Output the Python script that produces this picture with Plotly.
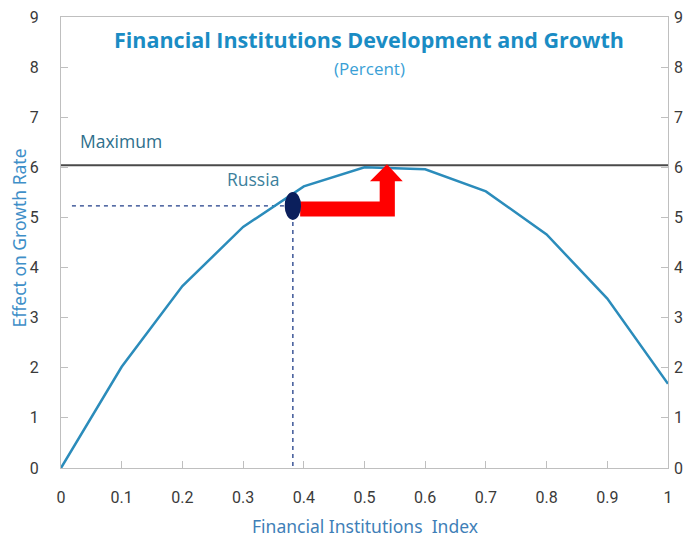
import plotly.graph_objects as go

# Data
fi_index = [0, 0.1, 0.2, 0.3, 0.4, 0.5, 0.6, 0.7, 0.8, 0.9, 1.0]
growth_effect = [0.0, 2.02, 3.63, 4.81, 5.62, 6.0, 5.96, 5.52, 4.66, 3.38, 1.68]
maximum_level = 6.04
russia_x = 0.382
russia_y = 5.23
target_x = 0.537
y_ticks = [0, 1, 2, 3, 4, 5, 6, 7, 8, 9]
x_ticks = [0, 0.1, 0.2, 0.3, 0.4, 0.5, 0.6, 0.7, 0.8, 0.9, 1.0]
x_tick_labels = ["0", "0.1", "0.2", "0.3", "0.4", "0.5", "0.6", "0.7", "0.8", "0.9", "1"]

TICKFONT = dict(family="Roboto", size=16, color="#3a3a3a")
LINE_BLUE = "#2b8cbb"

fig = go.Figure()

# Maximum line
fig.add_trace(go.Scatter(x=[0, 1], y=[maximum_level, maximum_level], mode="lines",
                         line=dict(color="#4a4a4a", width=2), hoverinfo="skip"))
# Dashed guides for Russia
fig.add_trace(go.Scatter(x=[0.018, russia_x], y=[russia_y, russia_y], mode="lines",
                         line=dict(color="#1f3c88", width=1.3, dash="4px,4px"), hoverinfo="skip"))
fig.add_trace(go.Scatter(x=[russia_x, russia_x], y=[russia_y, -0.14], mode="lines",
                         line=dict(color="#1f3c88", width=1.3, dash="4px,4px"), hoverinfo="skip",
                         cliponaxis=False))
# Main curve
fig.add_trace(go.Scatter(x=fi_index, y=growth_effect, mode="lines",
                         line=dict(color=LINE_BLUE, width=2.5), hoverinfo="skip"))

# Red arrow (computed from Russia point and target)
bar_x0 = russia_x + 0.012
bar_y0 = russia_y - 0.21
bar_y1 = russia_y + 0.09
stem_x0 = target_x - 0.012
stem_x1 = target_x + 0.013
head_base = maximum_level - 0.32
head_x0 = target_x - 0.028
head_x1 = target_x + 0.026
path = (f"M {bar_x0},{bar_y0} L {stem_x1},{bar_y0} L {stem_x1},{head_base} "
        f"L {head_x1},{head_base} L {target_x},{maximum_level + 0.02} L {head_x0},{head_base} "
        f"L {stem_x0},{head_base} L {stem_x0},{bar_y1} L {bar_x0},{bar_y1} Z")
fig.add_shape(type="path", path=path, xref="x", yref="y", fillcolor="#ff0000",
              line=dict(width=0), layer="above")

# Russia marker (ellipse)
fig.add_shape(type="circle", xref="x", yref="y",
              x0=russia_x - 0.0135, x1=russia_x + 0.0135,
              y0=russia_y - 0.28, y1=russia_y + 0.28,
              fillcolor="#0b1f5c", line=dict(width=0), layer="above")

# Right axis dummy trace
fig.add_trace(go.Scatter(x=[0], y=[0], yaxis="y2", mode="markers", marker=dict(opacity=0),
                         hoverinfo="skip"))

fig.add_annotation(text="<b>Financial Institutions Development and Growth</b>",
                   x=0.508, y=8.56, xref="paper", yref="y", showarrow=False,
                   font=dict(family="Open Sans", size=21.5, color="#1a8cc4"))
fig.add_annotation(text="(Percent)", x=0.508, y=7.98, xref="paper", yref="y", showarrow=False,
                   font=dict(family="Open Sans", size=17, color="#3a9fd6"))
fig.add_annotation(text="Maximum", x=0.028, y=6.52, xref="x", yref="y", showarrow=False,
                   xanchor="left", font=dict(family="Open Sans", size=17.5, color="#2e6f8c"))
fig.add_annotation(text="Russia", x=0.27, y=5.76, xref="x", yref="y", showarrow=False,
                   xanchor="left", font=dict(family="Open Sans", size=17.5, color="#3c7f9c"))
# Axis titles
fig.add_annotation(text="Financial Institutions  Index", x=0.5, y=0, xref="paper", yref="paper",
                   xanchor="center", yanchor="middle", yshift=-58, showarrow=False,
                   font=dict(family="Noto Sans", size=17.5, color="#3f7fb8"))
fig.add_annotation(text="Effect on Growth Rate", x=0, y=0.5, xref="paper", yref="paper",
                   xanchor="center", yanchor="middle",
                   xshift=-43, yshift=4, textangle=-90, showarrow=False,
                   font=dict(family="Noto Sans", size=17.5, color="#3f8fc8"))

axis_common = dict(showgrid=False, zeroline=False, ticks="inside", ticklen=7,
                   tickcolor="#bfbfbf", tickfont=TICKFONT, ticklabeloverflow="allow")

fig.update_layout(
    width=693, height=538,
    margin=dict(l=53, r=33, t=9, b=78, autoexpand=False),
    plot_bgcolor="white", paper_bgcolor="white",
    showlegend=False,
    xaxis=dict(range=[0, 1], tickvals=x_ticks, ticktext=x_tick_labels, mirror=True,
               showline=True, linecolor="#bfbfbf", linewidth=1.2, ticklabelstandoff=15,
               **axis_common),
    yaxis=dict(range=[0, 9], tickvals=y_ticks, showline=True, mirror=True,
               linecolor="#bfbfbf", linewidth=1.2, ticklabelstandoff=18,
               **axis_common),
    yaxis2=dict(range=[0, 9], tickvals=y_ticks, overlaying="y", side="right",
                showline=False, ticklabelstandoff=5, **axis_common),
)

fig.write_html("out.html")
